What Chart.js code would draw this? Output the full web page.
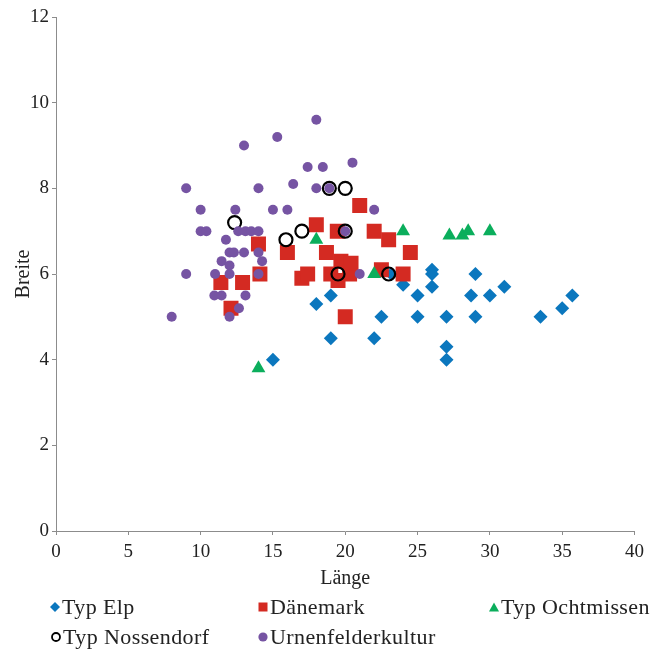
<!DOCTYPE html>
<html>
<head>
<meta charset="utf-8">
<script src="https://cdn.jsdelivr.net/npm/chart.js@4"></script>
<style>
    body { margin: 0; background: #fff; }
    #wrap { position: relative; width: 650px; height: 653px; }
    #legend { position: absolute; left: 0; top: 0; width: 650px; height: 653px; pointer-events: none;
              font-family: "Liberation Serif", serif; font-size: 22px; letter-spacing: 0.4px; color: #222; }
    .item { position: absolute; white-space: nowrap; line-height: 22px; }
    .item svg { position: absolute; }
</style>
</head>
<body>
<div id="wrap">
    <canvas id="chart" width="650" height="653"></canvas>
    <div id="legend"></div>
</div>
<script>
// Scatter: Länge vs Breite per type

const elpX = [15, 18, 19, 19, 22, 22.5, 23.2, 24, 25, 25, 26, 26, 26, 27, 27, 27, 28.7, 29, 29, 30, 31, 33.5, 35, 35.7];
const elpY = [4, 5.3, 5.5, 4.5, 4.5, 5, 6, 5.75, 5.5, 5, 6.1, 6, 5.7, 5, 4.3, 4, 5.5, 6, 5, 5.5, 5.7, 5, 5.2, 5.5];

const daenX = [11.4, 12.1, 12.9, 14, 14.1, 16, 17, 17.4, 18, 18.7, 19.45, 19, 19.5, 20.3, 19.7, 20.4, 20, 21, 22, 23, 22.5, 24, 24.5];
const daenY = [5.8, 5.2, 5.8, 6.7, 6, 6.5, 5.9, 6, 7.15, 6.5, 7, 6, 5.85, 6, 6.3, 6.25, 5, 7.6, 7, 6.8, 6.1, 6, 6.5];

const ochtX = [14, 18, 22, 24, 27.2, 28.1, 28.5, 30];
const ochtY = [3.8, 6.8, 6, 7, 6.9, 6.9, 7, 7];

const nossX = [12.35, 15.9, 17, 18.9, 20, 20, 19.5, 23];
const nossY = [7.2, 6.8, 7, 8, 8, 7, 6, 6];

const urnX = [8, 9, 9, 10, 10, 10.4, 11, 10.95, 11.45, 11.45, 11.75, 12, 12.3, 12, 12, 12, 12.65, 12.4, 12.6, 13, 13, 13.1, 13.1,
              13.5, 14, 14, 14.25, 14, 14, 15, 15.3, 16, 16.4, 17.4, 18, 18.45, 18, 18.9, 20.5, 22, 20, 21];
const urnY = [5, 6, 8, 7.5, 7, 7, 6, 5.5, 5.5, 6.3, 6.8, 6.5, 6.5, 6.2, 6, 5, 5.2, 7.5, 7, 6.5, 9, 7, 5.5,
              7, 7, 6.5, 6.3, 6, 8, 7.5, 9.2, 7.5, 8.1, 8.5, 8, 8.5, 9.6, 8, 8.6, 7.5, 7, 6];

const seriesNames = ['Typ Elp', 'Dänemark', 'Typ Ochtmissen', 'Typ Nossendorf', 'Urnenfelderkultur'];

const xTicks = [0, 5, 10, 15, 20, 25, 30, 35, 40];
const yTicks = [0, 2, 4, 6, 8, 10, 12];

const FONT = '"Liberation Serif", serif';
const AXIS = '#8c8c8c';

function pts(xs, ys) {
    return xs.map((x, i) => ({ x: x, y: ys[i] }));
}

const datasets = [
    { label: seriesNames[0], data: pts(elpX, elpY), pointStyle: 'rectRot', pointRadius: 7,
      backgroundColor: '#0b77be', borderColor: '#0b77be', borderWidth: 0, order: 5 },
    { label: seriesNames[1], data: pts(daenX, daenY), pointStyle: 'rect', pointRadius: 10.6,
      backgroundColor: '#d42a22', borderColor: '#d42a22', borderWidth: 0, order: 4 },
    { label: seriesNames[2], data: pts(ochtX, ochtY), pointStyle: 'triangle', pointRadius: 8,
      backgroundColor: '#0bae5c', borderColor: '#0bae5c', borderWidth: 0, order: 3 },
    { label: seriesNames[3], data: pts(nossX, nossY), pointStyle: 'circle', pointRadius: 6.5,
      backgroundColor: 'rgba(0,0,0,0)', borderColor: '#000', borderWidth: 2.2, order: 2 },
    { label: seriesNames[4], data: pts(urnX, urnY), pointStyle: 'circle', pointRadius: 5,
      backgroundColor: '#7654a3', borderColor: '#7654a3', borderWidth: 0, order: 1 }
];

new Chart(document.getElementById('chart'), {
    type: 'scatter',
    data: { datasets: datasets },
    options: {
        responsive: false,
        animation: false,
        events: [],
        layout: { padding: { left: 0, right: 13, top: 17, bottom: 62 } },
        plugins: { legend: { display: false }, tooltip: { enabled: false } },
        scales: {
            x: {
                min: 0, max: 40,
                afterBuildTicks: s => { s.ticks = xTicks.map(v => ({ value: v })); },
                afterFit: s => { s.height = 60; },
                grid: { display: true, drawOnChartArea: false, drawTicks: true, tickLength: 4, color: AXIS },
                border: { display: true, color: AXIS, width: 1 },
                ticks: { color: '#222', padding: 6, font: { family: FONT, size: 19 } },
                title: { display: true, text: 'Länge', color: '#222', padding: { top: 0, bottom: 0 },
                         font: { family: FONT, size: 20 } }
            },
            y: {
                min: 0, max: 12,
                afterBuildTicks: s => { s.ticks = yTicks.map(v => ({ value: v })); },
                afterFit: s => { s.width = 56; },
                grid: { display: true, drawOnChartArea: false, drawTicks: true, tickLength: 4, color: AXIS },
                border: { display: true, color: AXIS, width: 1 },
                ticks: { color: '#222', padding: 3, font: { family: FONT, size: 19 } },
                title: { display: true, text: 'Breite', color: '#222', padding: { top: 12, bottom: 0 },
                         font: { family: FONT, size: 20 } }
            }
        }
    }
});

// HTML legend laid out as a grid, like the original
const legendPos = [
    { x: 55, y: 607 }, { x: 263, y: 607 }, { x: 494, y: 607 },
    { x: 56, y: 637 }, { x: 263, y: 637 }
];

function markerSvg(i) {
    const ds = datasets[i];
    let shape = '';
    if (i === 0) shape = `<polygon points="5,0 10,5 5,10 0,5" fill="${ds.backgroundColor}"/>`;
    else if (i === 1) shape = `<rect x="0.5" y="0.5" width="9" height="9" fill="${ds.backgroundColor}"/>`;
    else if (i === 2) shape = `<polygon points="5,0.5 10,9.5 0,9.5" fill="${ds.backgroundColor}"/>`;
    else if (i === 3) shape = `<circle cx="5" cy="5" r="4" fill="none" stroke="#000" stroke-width="1.8"/>`;
    else shape = `<circle cx="5" cy="5" r="4.6" fill="${ds.backgroundColor}"/>`;
    return `<svg width="10" height="10" viewBox="0 0 10 10" style="left:-5px;top:6px">${shape}</svg>`;
}

const legend = document.getElementById('legend');
seriesNames.forEach((name, i) => {
    const p = legendPos[i];
    const div = document.createElement('div');
    div.className = 'item';
    div.style.left = p.x + 'px';
    div.style.top = (p.y - 11) + 'px';
    div.innerHTML = markerSvg(i) + `<span style="position:absolute;left:7px;top:0">${name}</span>`;
    legend.appendChild(div);
});
</script>
</body>
</html>
